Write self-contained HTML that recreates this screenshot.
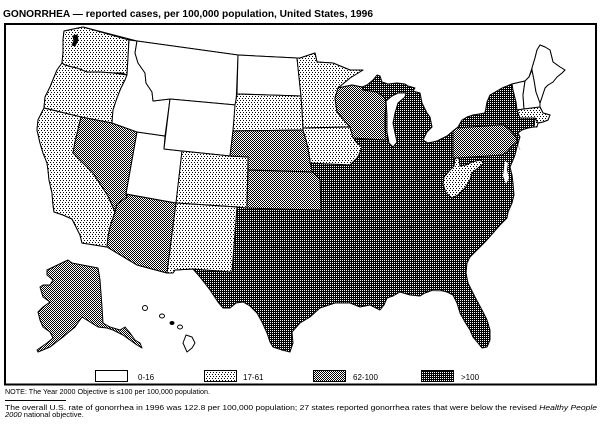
<!DOCTYPE html>
<html><head><meta charset="utf-8"><style>
html,body{margin:0;padding:0;background:#fff;}
svg{display:block;}
text{font-family:"Liberation Sans",Arial,sans-serif;fill:#000;}
</style></head><body>
<svg width="611" height="424" viewBox="0 0 611 424" xmlns="http://www.w3.org/2000/svg">
<defs>
<pattern id="pl" width="6" height="4" patternUnits="userSpaceOnUse"><rect width="6" height="4" fill="#fff"/><rect x="0" y="0" width="1" height="1" fill="#000"/><rect x="3" y="0" width="1" height="1" fill="#000"/><rect x="2" y="2" width="1" height="1" fill="#000"/><rect x="5" y="2" width="1" height="1" fill="#000"/></pattern>
<pattern id="pm" width="2" height="2" patternUnits="userSpaceOnUse"><rect width="2" height="2" fill="#fff"/><rect width="1" height="1" fill="#000"/><rect x="1" y="1" width="1" height="1" fill="#000"/></pattern>
<pattern id="pd" width="2" height="2" patternUnits="userSpaceOnUse"><rect width="2" height="2" fill="#000"/><rect width="1" height="1" fill="#fff"/></pattern>
</defs>
<rect width="611" height="424" fill="#fff"/>

<text x="3" y="17" font-size="10.5" font-weight="bold" textLength="370" lengthAdjust="spacingAndGlyphs">GONORRHEA — reported cases, per 100,000 population, United States, 1996</text>

<g stroke="#000" stroke-width="1" stroke-linejoin="round">
<!-- US outline (dark) -->
<polygon fill="url(#pd)" points="64,31 83,27 137,41 238,55 297,58 300,58 315,53 317,62 333,63 350,70 363,70 350,78 338,88 352,85 362,87 367,85 373,80 377,75 380,76 382,82 388,84 397,83 405,84 408,86 415,88 413,91 420,93 422,103 427,113 430,117 432,127 427,132 423,140 428,143 437,141 447,136 453,131 458,127 462,120 467,117 473,115 485,113 487,102 490,95 502,88 512,84 525,81 529,77 532,68 535,58 537,50 540,45 545,47 550,50 553,62 560,67 565,70 562,73 557,77 553,82 548,85 545,88 542,97 540,103 540,107 543,113 550,115 548,120 543,122 538,123 534,127 528,128 522,130 518,133 520,137 517,147 515,155 513,160 510,167 512,175 513,183 514,195 512,203 508,212 507,218 500,225 493,233 485,242 477,250 470,257 467,263 466,273 468,283 475,297 482,310 487,320 490,330 490,340 487,347 482,348 478,343 473,337 470,330 465,322 460,313 457,303 453,295 447,292 440,290 433,290 425,293 420,296 410,295 400,292 393,296 387,298 384,305 380,310 370,305 360,307 350,303 335,303 320,308 310,317 300,323 292,332 293,343 290,352 282,350 273,347 270,342 267,333 262,322 257,313 250,306 243,302 236,303 230,308 223,308 218,302 210,290 200,277 193,269 175,270 173,273 167,273 137,265 107,247 82,243 80,235 76,227 72,219 63,215 54,212 53,205 52,193 49,180 48,170 47,163 43,153 40,143 37,130 38,120 44,108 45,97 50,87 57,70 62,63 63,53 63,40"/>

<!-- internal borders in dark region (faint) -->
<g fill="none" stroke-opacity="0.3">
<polyline points="237,215 267,216 267,245 293,250 318,254"/>
<polyline points="321,210 322,245 318,254"/>
<polyline points="318,254 320,270 322,285 325,303"/>
<polyline points="318,256 352,256"/>
<polyline points="321,218 358,218"/>
<polyline points="358,218 358,230 355,245 352,256 348,270 346,285 368,285 370,300"/>
<polyline points="350,165 356,175 362,185 368,200 364,212 360,218"/>
<polyline points="360,219 400,217 440,213 508,210"/>
<polyline points="358,230 430,225"/>
<polyline points="385,228 386,295"/>
<polyline points="410,225 415,262 418,290 455,292"/>
<polyline points="440,225 468,228 482,240"/>
<polyline points="430,225 450,230 462,245 470,257"/>
<polyline points="362,200 375,198 388,192 402,187 420,180 432,175 445,172 450,178"/>
<polyline points="392,147 393,190"/>
<polyline points="415,145 417,182"/>
<polyline points="393,147 428,143"/>
<polyline points="443,184 430,200 425,212"/>
<polyline points="517,142 520,150"/>
</g>

<!-- Chesapeake -->
<polygon fill="#fff" stroke="none" points="505,161 508,163 507,170 509,178 506,184 503,176 504,168"/>

<!-- West -->
<polygon fill="url(#pl)" points="64,31 83,27 129,40 127,75 122,73 113,73 100,72 87,72 77,68 72,67 65,65 62,63 63,53 63,40"/>
<polygon fill="url(#pl)" points="65,65 72,67 77,68 87,72 100,72 113,73 127,75 125,80 121,88 117,98 113,110 112,123 81,117 44,108 45,97 50,87 57,70 62,63"/>
<polygon fill="url(#pl)" points="44,108 81,117 75,142 73,153 93,173 108,196 115,212 110,227 108,237 107,247 82,243 80,235 76,227 72,219 63,215 54,212 53,205 52,193 49,180 48,170 47,163 43,153 40,143 37,130 38,120"/>
<polygon fill="url(#pm)" points="81,117 112,123 137,132 126,194 127,197 117,204 115,212 108,196 93,173 73,153 75,142"/>
<polygon fill="url(#pm)" points="126,194 176,203 167,273 137,265 107,247 108,237 110,227 115,212 117,204 127,197"/>
<polygon fill="#fff" points="137,132 165,136 164,149 182,151 176,203 126,194"/>
<polygon fill="#fff" points="129,40 137,41 135,53 138,63 145,73 146,83 152,92 153,101 170,99 165,136 137,132 112,123 113,110 117,98 121,88 125,80 127,75"/>
<polygon fill="#fff" points="137,41 238,55 236,105 170,99 153,101 152,92 146,83 145,73 138,63 135,53"/>
<polygon fill="#fff" points="170,99 236,105 230,156 182,151 164,149"/>
<polygon fill="url(#pl)" points="182,151 230,156 248,157 247,208 237,207 176,203"/>
<polygon fill="url(#pl)" points="176,203 237,207 232,272 193,269 175,270 173,273 167,273"/>
<polygon fill="#fff" points="238,55 297,58 301,96 237,94"/>
<polygon fill="url(#pl)" points="237,94 301,96 302,110 303,130 233,131 235,105"/>
<polygon fill="url(#pm)" points="233,131 303,130 306,140 308,148 310,160 312,172 248,170 248,157 230,156"/>
<polygon fill="url(#pm)" points="248,170 312,172 316,175 320,180 321,210 247,208"/>

<!-- Midwest -->
<polygon fill="url(#pl)" points="297,58 300,58 315,53 317,62 333,63 350,70 363,70 350,78 338,88 335,98 337,112 350,127 303,128 302,110 301,96"/>
<polygon fill="url(#pl)" points="303,128 350,127 353,137 356,142 362,147 360,152 358,157 350,165 310,163 310,160 308,148 306,140 303,130"/>
<polygon fill="url(#pm)" points="338,88 352,85 362,87 363,90 377,92 385,98 386,105 385,115 385,128 386,140 353,138 350,127 337,112 335,98"/>
<polygon fill="#fff" points="386,101 392,96 398,93 406,93 405,97 398,103 395,113 393,123 395,133 397,142 393,147 389,143 387,132 387,115"/>

<!-- East -->
<polygon fill="url(#pm)" points="453,131 457,128 500,125 504,125 510,130 516,137 517,142 512,146 507,152 502,155 457,158 453,158"/>
<polygon fill="url(#pl)" points="455,158 459,158 460,166 466,165 472,162 480,160 484,163 478,168 472,173 470,180 465,188 458,195 452,198 446,193 443,184 444,177 450,170 454,166"/>
<polygon fill="#fff" points="512,84 525,81 523,95 524,109 517,110 516,102 513,90"/>
<polygon fill="#fff" points="525,81 529,77 532,70 534,80 536,92 540,103 540,107 524,109 523,95"/>
<polygon fill="#fff" points="532,70 532,68 535,58 537,50 540,45 545,47 550,50 553,62 560,67 565,70 562,73 557,77 553,82 548,85 545,88 542,97 540,103 536,92 534,80"/>
<polygon fill="url(#pl)" points="517,110 524,109 540,107 543,113 550,115 548,120 543,122 538,123 535,118 520,118"/>
<polygon fill="url(#pl)" points="535,118 538,123 537,127 534,127"/>

<!-- Puget Sound -->
<polygon fill="#000" points="73,36 77,35 78,40 75,46 72,45 74,41"/>

<!-- Alaska -->
<polygon fill="url(#pm)" points="47,270 68,260 72,263 98,268 100,280 102,307 103,323 110,327 120,330 125,327 130,333 135,340 140,343 142,348 137,345 123,335 113,330 107,328 98,327 90,322 82,317 75,327 63,337 50,347 38,352 37,350 47,343 53,338 50,332 43,327 40,320 38,312 43,307 50,302 43,297 40,287 43,285 50,285 53,280 47,275"/>

<!-- Hawaii -->
<ellipse cx="145" cy="308" rx="2.5" ry="2.5" fill="#fff"/>
<ellipse cx="162" cy="316" rx="2.5" ry="2" fill="#fff"/>
<ellipse cx="172" cy="323" rx="2" ry="1.5" fill="#000"/>
<ellipse cx="180" cy="327" rx="2.5" ry="2" fill="#fff"/>
<polygon fill="#fff" points="186,335 192,337 195,343 192,348 187,352 183,343"/>
</g>

<!-- frame -->
<rect x="5" y="24" width="591" height="360.5" fill="none" stroke="#000" stroke-width="2"/>

<!-- legend -->
<g stroke="#000" stroke-width="1">
<rect x="95.5" y="370.5" width="32" height="11" fill="#fff"/>
<rect x="204.5" y="370.5" width="32" height="11" fill="url(#pl)"/>
<rect x="313.5" y="370.5" width="32" height="11" fill="url(#pm)"/>
<rect x="421.5" y="370.5" width="32" height="11" fill="url(#pd)"/>
</g>
<text x="138" y="380" font-size="8">0-16</text>
<text x="243" y="380" font-size="8">17-61</text>
<text x="353" y="380" font-size="8">62-100</text>
<text x="461" y="380" font-size="8">&gt;100</text>

<!-- footer -->
<text x="5" y="394" font-size="7" textLength="205" lengthAdjust="spacingAndGlyphs">NOTE: The Year 2000 Objective is ≤100 per 100,000 population.</text>
<line x1="5" y1="400.5" x2="66" y2="400.5" stroke="#000" stroke-width="1"/>
<text x="5" y="410" font-size="7.5" textLength="592" lengthAdjust="spacingAndGlyphs">The overall U.S. rate of gonorrhea in 1996 was 122.8 per 100,000 population; 27 states reported gonorrhea rates that were below the revised <tspan font-style="italic">Healthy People</tspan></text>
<text x="5" y="417" font-size="7.5"><tspan font-style="italic">2000</tspan> national objective.</text>
</svg>
</body></html>
